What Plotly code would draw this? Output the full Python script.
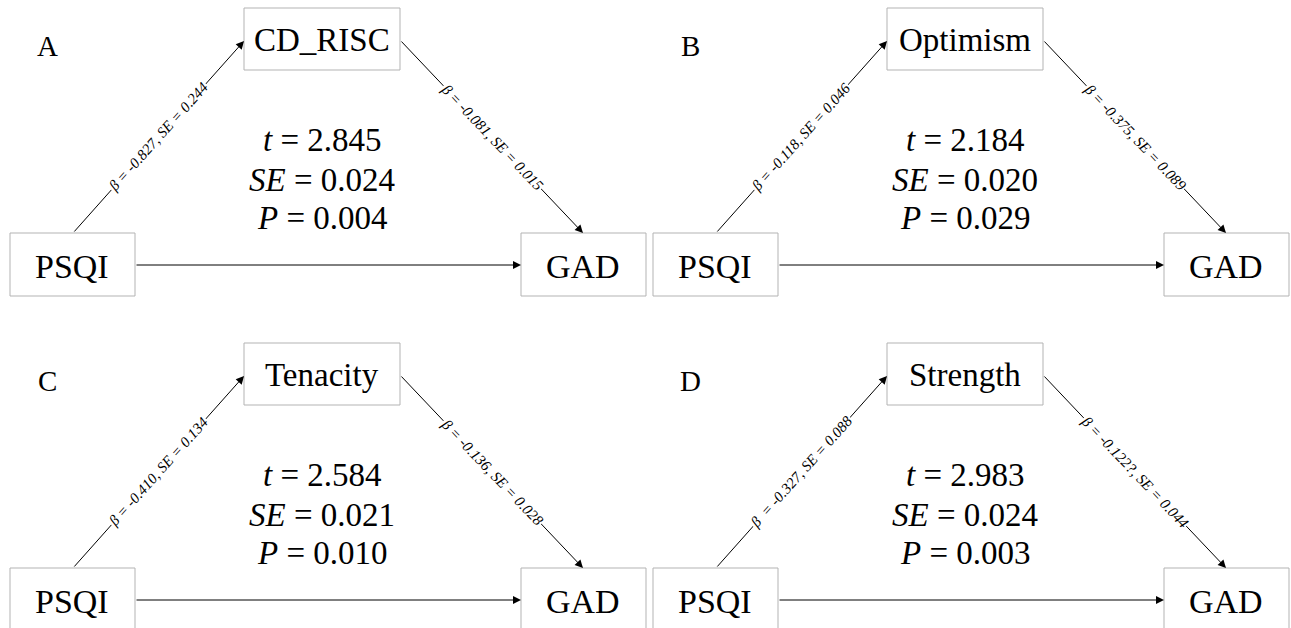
import plotly.graph_objects as go

# ---- data ----
panel_labels = ["A", "B", "C", "D"]
mediators = ["CD_RISC", "Optimism", "Tenacity", "Strength"]
predictor = "PSQI"
outcome = "GAD"
a_beta = ["-0.827", "-0.118", "-0.410", "-0.327"]
a_se = ["0.244", "0.046", "0.134", "0.088"]
b_beta = ["-0.081", "-0.375", "-0.136", "-0.122?"]
b_se = ["0.015", "0.089", "0.028", "0.044"]
t_vals = ["2.845", "2.184", "2.584", "2.983"]
se_vals = ["0.024", "0.020", "0.021", "0.024"]
p_vals = ["0.004", "0.029", "0.010", "0.003"]

# ---- layout geometry ----
W, H = 1291, 628
FONT = "Liberation Serif, Times New Roman, serif"
dxs = [0, 643, 0, 643]
dys = [0, 0, 335, 335]

fig = go.Figure()
shapes = []
ann = []

def box(x0, y0, x1, y1):
    shapes.append(dict(type="rect", xref="x", yref="y", x0=x0, x1=x1, y0=y0, y1=y1,
                       line=dict(color="#b3b3b3", width=1), fillcolor="white", layer="below"))

def text(x, y, s, size, angle=0, bg=None):
    d = dict(x=x, y=y, xref="x", yref="y", text=s, showarrow=False,
             font=dict(family=FONT, size=size, color="black"), textangle=angle,
             xanchor="center", yanchor="middle")
    if bg:
        d["bgcolor"] = bg
        d["borderpad"] = 0
    ann.append(d)

def arrow(x0, y0, x1, y1):
    ann.append(dict(x=x1, y=y1, ax=x0, ay=y0, xref="x", yref="y", axref="x", ayref="y",
                    text="", showarrow=True, arrowhead=2, arrowsize=1.6, arrowwidth=1,
                    arrowcolor="black", standoff=0, startstandoff=0))

for i in range(4):
    dx, dy = dxs[i], dys[i]
    # boxes
    box(244 + dx, 8 + dy, 400 + dx, 70 + dy)
    box(10 + dx, 233 + dy, 135 + dx, 296 + dy)
    box(521 + dx, 233 + dy, 646 + dx, 296 + dy)
    text(47 + dx, 46 + dy, panel_labels[i], 29)
    text(322 + dx, 40 + dy, mediators[i], 33)
    text(72 + dx, 266 + dy, predictor, 34)
    text(583 + dx, 266 + dy, outcome, 34)
    # arrows
    arrow(73 + dx, 233 + dy, 244 + dx, 41 + dy)
    arrow(400 + dx, 40 + dy, 583 + dx, 233 + dy)
    arrow(135 + dx, 265 + dy, 521 + dx, 265 + dy)
    # path labels
    beta_sp = "\u00a0\u00a0" if i == 3 else " "
    text(158 + dx, 137 + dy,
         f"<i>β{beta_sp}= {a_beta[i]}, SE = {a_se[i]}</i>", 15, angle=-48, bg="white")
    text(492 + dx, 137 + dy,
         f"<i>β = {b_beta[i]}, SE = {b_se[i]}</i>", 15, angle=46.5, bg="white")
    # indirect effect stats
    text(322 + dx, 140 + dy, f"<i>t</i> = {t_vals[i]}", 33)
    text(322 + dx, 180 + dy, f"<i>SE</i> = {se_vals[i]}", 33)
    text(322 + dx, 218 + dy, f"<i>P</i> = {p_vals[i]}", 33)

fig.update_layout(
    width=W, height=H, margin=dict(l=0, r=0, t=0, b=0),
    paper_bgcolor="white", plot_bgcolor="white", showlegend=False,
    xaxis=dict(range=[0, W], visible=False, fixedrange=True),
    yaxis=dict(range=[H, 0], visible=False, fixedrange=True),
    shapes=shapes, annotations=ann,
)
fig.write_html("out.html", config={"displayModeBar": False},
               post_script="document.body.style.margin='0';document.body.style.overflow='hidden';")
